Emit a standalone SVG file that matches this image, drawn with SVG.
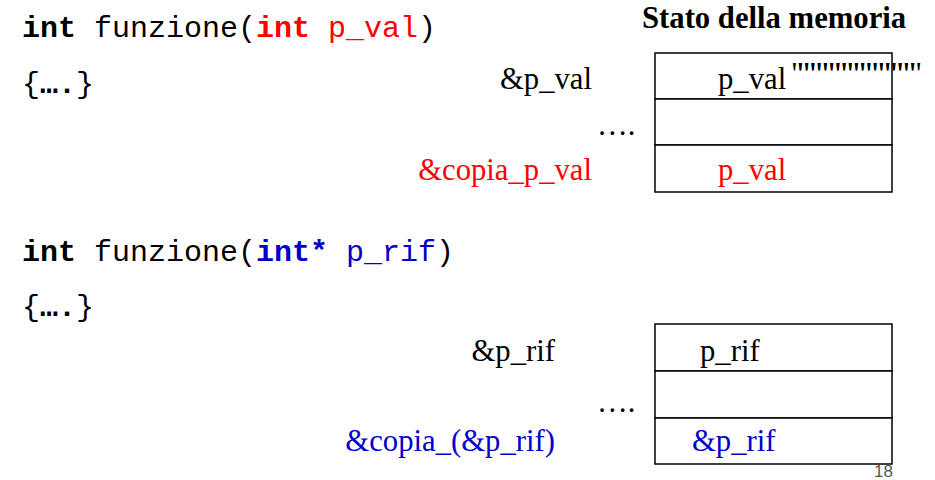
<svg xmlns="http://www.w3.org/2000/svg" width="935" height="480" viewBox="0 0 935 480">
<style>
.code{font-family:"Liberation Mono","Courier New",monospace;font-size:30px;fill:#000}
.b{font-weight:bold}
.t{font-family:"Liberation Serif","Times New Roman",serif;font-size:30.7px;fill:#000}
.red{fill:#ff0000}
.blue{fill:#0000cc}
.cell{fill:#fff;stroke:#000;stroke-width:1.5}
</style>
<rect width="935" height="480" fill="#fff"/>
<g id="code1">
<text class="code" x="22" y="37"><tspan class="b">int</tspan> funzione(<tspan class="b red">int</tspan> <tspan class="red">p_val</tspan>)</text>
<text class="code" x="22" y="93">{<tspan class="b">….</tspan>}</text>
</g>
<g id="code2">
<text class="code" x="22" y="261"><tspan class="b">int</tspan> funzione(<tspan class="b blue">int*</tspan> <tspan class="blue">p_rif</tspan>)</text>
<text class="code" x="22" y="316">{<tspan class="b">….</tspan>}</text>
</g>
<text class="t b" x="642" y="28" font-weight="bold">Stato della memoria</text>
<g id="mem1">
<rect class="cell" x="655" y="53" width="237" height="46"/>
<rect class="cell" x="655" y="99" width="237" height="46"/>
<rect class="cell" x="655" y="145" width="237" height="47"/>
<text class="t" x="718" y="89">p_val</text>
<text class="t" x="791" y="84" font-size="18" textLength="131" lengthAdjust="spacing">""""""""""""""""""""</text>
<text class="t red" x="718" y="180">p_val</text>
<text class="t" x="592" y="89" text-anchor="end">&amp;p_val</text>
<text class="t" x="597" y="135">….</text>
<text class="t red" x="592" y="180" text-anchor="end">&amp;copia_p_val</text>
</g>
<g id="mem2">
<rect class="cell" x="655" y="324" width="237" height="47"/>
<rect class="cell" x="655" y="371" width="237" height="47"/>
<rect class="cell" x="655" y="418" width="237" height="46"/>
<text class="t" x="700" y="361">p_rif</text>
<text class="t blue" x="692" y="451">&amp;p_rif</text>
<text class="t" x="555" y="361" text-anchor="end">&amp;p_rif</text>
<text class="t" x="597" y="412">….</text>
<text class="t blue" x="555" y="451" text-anchor="end">&amp;copia_(&amp;p_rif)</text>
</g>
<g id="connectors"/>
<text x="893" y="477" text-anchor="end" font-family="Liberation Sans, Arial, sans-serif" font-size="17" fill="#555">18</text>
</svg>
